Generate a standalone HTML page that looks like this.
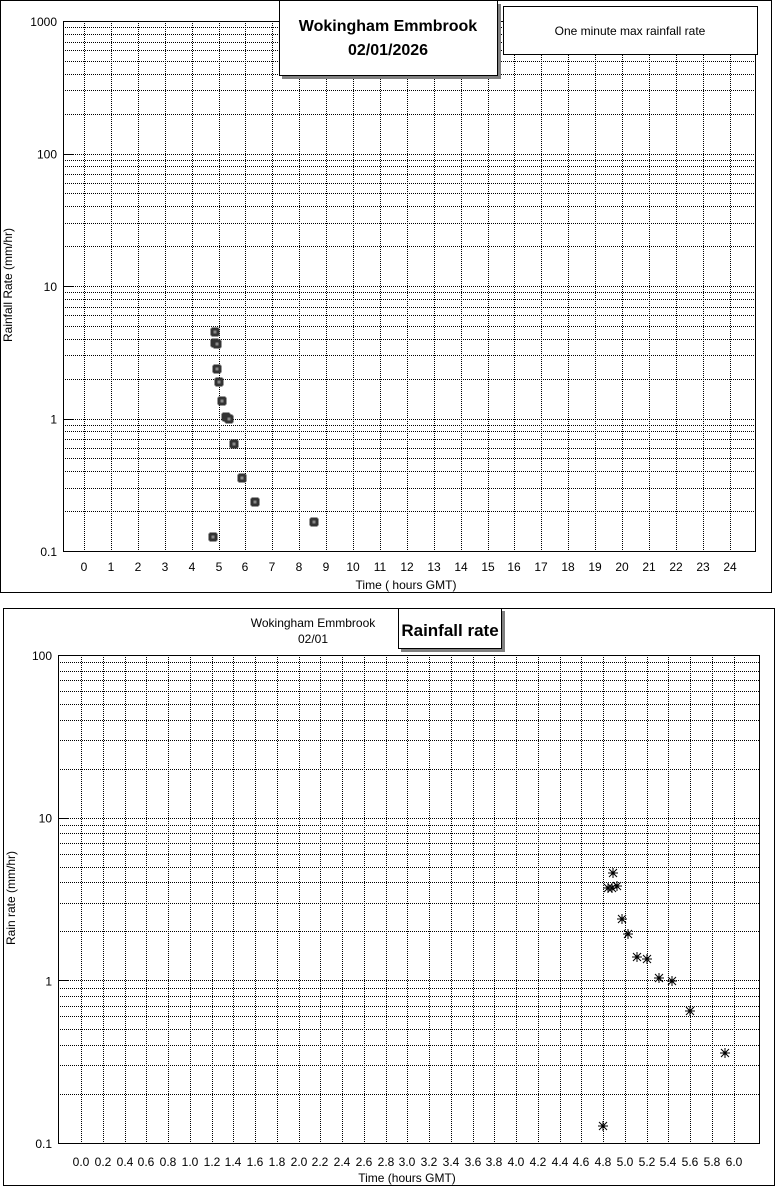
<!DOCTYPE html>
<html><head><meta charset="utf-8"><style>
body{margin:0;background:#fff}
svg{display:block;font-family:"Liberation Sans",Arial,sans-serif}
</style></head><body>
<svg id="s" width="776" height="1186" xmlns="http://www.w3.org/2000/svg">
<rect x="0.5" y="0.5" width="771" height="592" fill="#fff" stroke="#000"/>
<rect x="3.5" y="608.5" width="771" height="577" fill="#fff" stroke="#000"/>
<g id="g1"></g>
<g id="g2"></g>
<rect x="282" y="4" width="219" height="75" fill="#808080"/>
<rect x="279.5" y="0.5" width="218" height="75" fill="#fff" stroke="#000"/>
<text x="388" y="31" font-size="16" font-weight="bold" text-anchor="middle">Wokingham Emmbrook</text>
<text x="388" y="55" font-size="16" font-weight="bold" text-anchor="middle">02/01/2026</text>
<rect x="503.5" y="6.5" width="254" height="48" fill="#fff" stroke="#000"/>
<text x="630" y="35" font-size="12" text-anchor="middle">One minute max rainfall rate</text>
<text x="8" y="285" font-size="12" text-anchor="middle" transform="rotate(-90 8 285)" dy="4">Rainfall Rate (mm/hr)</text>
<text x="406" y="589" font-size="12" text-anchor="middle">Time ( hours GMT)</text>
<text x="313" y="627" font-size="12" text-anchor="middle">Wokingham Emmbrook</text>
<text x="313" y="643" font-size="12" text-anchor="middle">02/01</text>
<rect x="401" y="611" width="104" height="41" fill="#808080"/>
<rect x="398.5" y="608.5" width="103" height="40" fill="#fff" stroke="#000"/>
<text x="450" y="636" font-size="17" font-weight="bold" text-anchor="middle">Rainfall rate</text>
<text x="11" y="898" font-size="12" text-anchor="middle" transform="rotate(-90 11 898)" dy="4">Rain rate (mm/hr)</text>
<text x="407" y="1182" font-size="12" text-anchor="middle">Time (hours GMT)</text>
</svg>
<script>
var NS="http://www.w3.org/2000/svg";
function el(p,t,a,txt){var e=document.createElementNS(NS,t);for(var k in a)e.setAttribute(k,a[k]);if(txt!==undefined)e.textContent=txt;p.appendChild(e);return e;}
function chart(g,L,T,R,B,nDec,xs,xLabels,labelY,ylabels){
  var dh=(B-T)/nDec;
  for(var d=0;d<nDec;d++){
    for(var m=1;m<=9;m++){
      var y=Math.round(B-d*dh-Math.log10(m)*dh);
      if(m==1&&d==0)continue;
      el(g,'line',{x1:L,x2:R,y1:y+0.5,y2:y+0.5,stroke:'#000','stroke-dasharray':'1,1'});
      if(m==1)el(g,'line',{x1:L,x2:L+10,y1:y+0.5,y2:y+0.5,stroke:'#000'});
    }
  }
  el(g,'line',{x1:L,x2:L+10,y1:T+0.5,y2:T+0.5,stroke:'#000'});
  xs.forEach(function(x,i){
    x=Math.round(x);
    el(g,'line',{x1:x+0.5,x2:x+0.5,y1:T,y2:B,stroke:'#000','stroke-dasharray':'1,1'});
    el(g,'text',{x:x,y:labelY,'font-size':12,'text-anchor':'middle'},xLabels[i]);
  });
  ylabels.forEach(function(t,i){
    el(g,'text',{x:L-6,y:B-i*dh+5,'font-size':12,'text-anchor':'end'},t);
  });
  return function(){el(g,'rect',{x:L+0.5,y:T+0.5,width:R-L,height:B-T,fill:'none',stroke:'#000'});};
}
var g1=document.getElementById('g1'),g2=document.getElementById('g2');
var xs1=[],xl1=[];for(var h=0;h<=24;h++){xs1.push(84+h*26.9);xl1.push(''+h);}
var f1=chart(g1,63,21,755,551,4,xs1,xl1,571,['0.1','1','10','100','1000']);
var xs2=[],xl2=[];for(var i=0;i<=30;i++){xs2.push(81+i*21.75);xl2.push((i*0.2).toFixed(1));}
var f2=chart(g2,58,655,759,1143,3,xs2,xl2,1166,['0.1','1','10','100']);
var p1=[[215,332],[215,343],[217,344],[217,369],[219,382],[222,401],[226,417],[229,419],[234,444],[242,478],[255,502],[314,522],[213,537]];
p1.forEach(function(p){var x=p[0],y=p[1];
 el(g1,'rect',{x:x-4.5,y:y-3.5,width:9,height:7,fill:'#333'});
 el(g1,'rect',{x:x-3.5,y:y-4.5,width:7,height:9,fill:'#333'});
 el(g1,'rect',{x:x-1.5,y:y-1.5,width:3,height:3,fill:'#888'});});
var p2=[[613,873],[608,888],[612,888],[617,886],[622,919],[628,934],[637,957],[647,959],[659,978],[672,981],[690,1011],[725,1053],[603,1126]];
p2.forEach(function(p){var x=p[0],y=p[1],r=5;
 el(g2,'path',{d:'M'+(x-r)+' '+y+'H'+(x+r)+'M'+x+' '+(y-r)+'V'+(y+r)+'M'+(x-4)+' '+(y-4)+'L'+(x+4)+' '+(y+4)+'M'+(x-4)+' '+(y+4)+'L'+(x+4)+' '+(y-4),stroke:'#000','stroke-width':1,fill:'none'});
 el(g2,'circle',{cx:x,cy:y,r:1.8,fill:'#000'});});
f1();f2();
</script>
</body></html>
